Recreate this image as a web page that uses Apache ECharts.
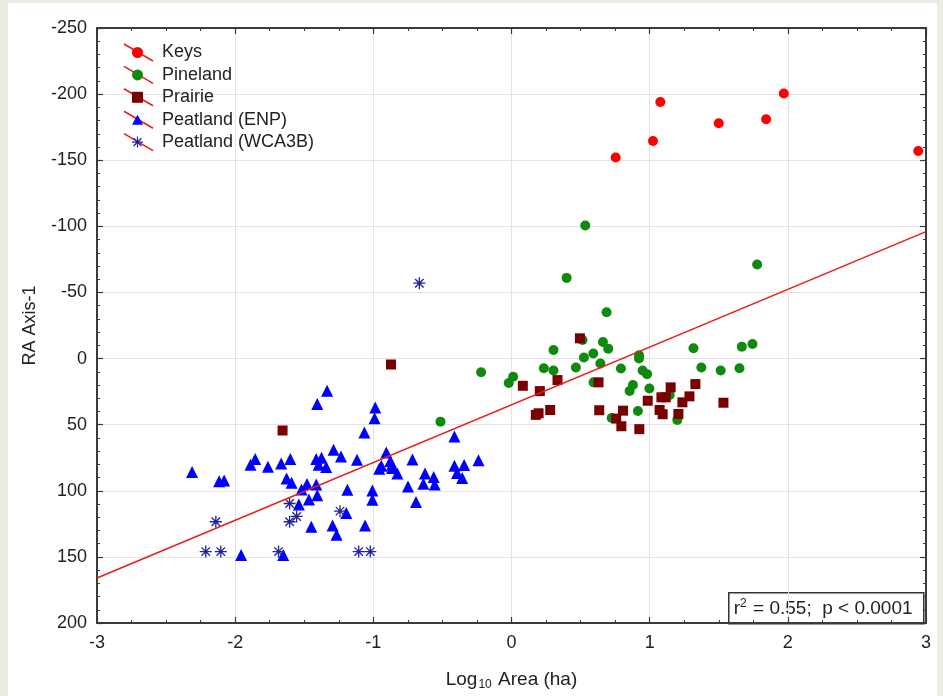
<!DOCTYPE html>
<html>
<head>
<meta charset="utf-8">
<script src="https://cdn.jsdelivr.net/npm/echarts@6/dist/echarts.min.js"></script>
<style>
html,body{margin:0;padding:0;background:#EDECE3;}
#panel{position:absolute;left:8px;top:3px;width:929px;height:693px;background:#fff;}
#chart{position:absolute;left:0;top:0;width:943px;height:696px;}
</style>
</head>
<body>
<div id="panel"></div>
<div id="chart"></div>
<script>
// ---- data (Log10 Area, RA Axis-1) ----
const keys = [[0.754,-152],[1.024,-164.5],[1.077,-194],[1.50,-178],[1.843,-181],[1.971,-200.5],[2.944,-157]];
const pineland = [[0.534,-100.6],[1.778,-71.2],[0.399,-61],[0.688,-35],[0.514,-14],[0.662,-12.5],[0.700,-7.5],
  [0.304,-6.5],[0.592,-3.8],[0.524,-0.8],[0.923,-2.5],[0.923,0],[1.317,-7.8],[1.667,-9],[1.744,-11],
  [-0.22,10.3],[0.234,7.3],[0.304,9],[0.466,6.8],[0.643,3.8],[0.792,7.5],[0.949,9],[0.981,11.8],[1.374,6.8],
  [1.514,9],[1.65,7.3],[0.012,13.8],[-0.02,18.5],[0.594,18],[0.879,20],[0.855,24.6],[0.998,22.6],[1.145,27.6],
  [0.915,39.6],[0.725,45],[1.2,46.4],[-0.514,47.7]];
const prairie = [[0.495,-15.3],[0.082,20.6],[0.333,16.3],[0.205,24.6],[0.630,18],[0.176,42.6],[0.196,41.4],
  [0.280,38.9],[0.635,39.1],[0.807,39.4],[0.758,45.4],[0.795,51.2],[0.925,53.4],[0.986,31.9],[1.085,29.3],
  [1.116,29.3],[1.152,21.8],[1.072,38.9],[1.094,42.1],[1.237,33.1],[1.288,28.6],[1.331,19.3],[1.208,41.9],
  [1.534,33.4],[-0.872,4.5],[-1.657,54.4]];
const peatlandENP = [[-2.312,85.8],[-2.116,92.8],[-2.08,92.3],[-1.957,148.5],[-1.889,80.3],[-1.855,76],
  [-1.763,81.8],[-1.667,79.3],[-1.601,76],[-1.652,148.5],[-1.628,90.8],[-1.592,94],[-1.539,110.4],[-1.52,99.1],
  [-1.48,94.8],[-1.466,106.6],[-1.449,127.2],[-1.413,95.3],[-1.406,103.3],[-1.406,34.4],[-1.335,24.3],
  [-1.413,76],[-1.375,75],[-1.396,80.3],[-1.341,82],[-1.288,69],[-1.234,74],[-1.295,126.2],[-1.266,133.2],
  [-1.196,116.9],[-1.188,99.3],[-1.118,76.5],[-1.065,55.9],[-1.06,126.2],[-1.007,99.8],[-1.007,106.8],
  [-0.986,37.1],[-0.991,45.1],[-0.957,83.3],[-0.942,81],[-0.906,71],[-0.877,77.5],[-0.865,80.3],[-0.865,82.8],
  [-0.826,87],[-0.717,76.3],[-0.749,96.8],[-0.691,108.4],[-0.638,94.6],[-0.626,87],[-0.563,89.5],[-0.556,95.3],
  [-0.413,58.9],[-0.413,81],[-0.394,86.5],[-0.357,90.3],[-0.343,80.5],[-0.239,77]];
const peatlandWCA3B = [[-2.14,123.4],[-2.213,146],[-2.104,146],[-1.686,146],[-1.606,109.6],[-1.606,123.4],
  [-1.555,119.4],[-1.241,115.4],[-1.106,146],[-1.022,146],[-0.667,-57]];
const regression = [[-3,166],[3,-96]];
const seriesNames = ['Keys','Pineland','Prairie','Peatland (ENP)','Peatland (WCA3B)'];
const xTicks = {min:-3,max:3,step:1};
const yTicks = {min:-250,max:200,step:50};
const statText = 'r{sup|2} = 0.55;  p < 0.0001';

// ---- styling ----
const FONT = '"Liberation Sans", Arial, sans-serif';
function asteriskPath(){
  const L = 10, t = 1.1, parts = [];
  [0,45,90,135].forEach(a=>{
    const r = a*Math.PI/180, c = Math.cos(r), s = Math.sin(r);
    const pts = [[-L,-t],[L,-t],[L,t],[-L,t]].map(([x,y])=>[(x*c-y*s).toFixed(2),(x*s+y*c).toFixed(2)]);
    parts.push('M'+pts[0].join(',')+'L'+pts[1].join(',')+'L'+pts[2].join(',')+'L'+pts[3].join(',')+'Z');
  });
  return 'path://'+parts.join('');
}
const AST = asteriskPath();
const TRI = 'path://M0,-10L10,8L-10,8Z';
const SQR = 'path://M0,0L10,0L10,10L0,10Z';

const chart = echarts.init(document.getElementById('chart'), null, {renderer:'canvas'});
const axisColor = '#3a3a3a';
function xAx(pos, labels){
  return {type:'value', position:pos, min:xTicks.min, max:xTicks.max, interval:xTicks.step,
    axisLine:{show:true, onZero:false, lineStyle:{color:axisColor, width:2}},
    axisTick:{show:true, inside:true, length:6, lineStyle:{color:axisColor, width:1.2}},
    minorTick:{show:true, splitNumber:4, length:3, lineStyle:{color:axisColor, width:1}},
    splitLine:{show:labels, lineStyle:{color:'#e4e4e4', width:1}},
    axisLabel:{show:labels, color:'#222', fontSize:18, fontFamily:FONT, margin:11},
    name: labels ? 'Log{sub|10} Area (ha)' : '', nameLocation:'middle', nameGap:46,
    nameTextStyle:{color:'#222', fontSize:19, fontFamily:FONT,
      rich:{sub:{fontSize:12, fontFamily:FONT, color:'#222', padding:[10,1,0,1]}}}
  };
}
function yAx(pos, labels){
  return {type:'value', position:pos, inverse:true, min:yTicks.min, max:yTicks.max, interval:yTicks.step,
    axisLine:{show:true, onZero:false, lineStyle:{color:axisColor, width:2}},
    axisTick:{show:true, inside:true, length:6, lineStyle:{color:axisColor, width:1.2}},
    minorTick:{show:true, splitNumber:5, length:3, lineStyle:{color:axisColor, width:1}},
    splitLine:{show:labels, lineStyle:{color:'#e4e4e4', width:1}},
    axisLabel:{show:labels, color:'#222', fontSize:18, fontFamily:FONT, margin:10},
    name: labels ? 'RA Axis-1' : '', nameLocation:'middle', nameGap:58, nameRotate:90,
    nameTextStyle:{color:'#222', fontSize:18, fontFamily:FONT}
  };
}
const colors = ['#ff0000','#0f8a0f','#7a0000','#0000ff','#23239a'];
const symbols = ['circle','circle',SQR,TRI,AST];
const sizes = [10,10,10,12,12];
const datas = [keys,pineland,prairie,peatlandENP,peatlandWCA3B];

const series = datas.map((d,i)=>({
  name:seriesNames[i], type:'scatter', data:d, symbol:symbols[i], symbolSize:sizes[i],
  itemStyle:{color:colors[i], opacity:1}, z:3+ (i===4?1:0)
}));
series.push({name:'fit', type:'line', data:regression, symbol:'none', silent:true,
  lineStyle:{color:'#e8201c', width:1.6}, z:5});

// legend red diagonal lines (Statistica-style legend keys)
const legendLines = seriesNames.map((n,i)=>{
  const cy = 52.5 + 22.4*i;
  return {type:'line', z:1, shape:{x1:124,y1:cy-8.5,x2:153,y2:cy+8.5},
    style:{stroke:'#e8201c', lineWidth:1.6}};
});

chart.setOption({
  animation:false,
  backgroundColor:'transparent',
  grid:{left:97, right:17, top:28, bottom:70, containLabel:false},
  xAxis:[xAx('bottom',true), xAx('top',false)],
  yAxis:[yAx('left',true), yAx('right',false)],
  legend:{data:seriesNames, orient:'vertical', left:127, top:36.3, itemWidth:11, itemHeight:11, itemGap:0,
    textStyle:{fontSize:18, fontFamily:FONT, color:'#222', lineHeight:22.4, padding:[0,0,0,14]},
    selectedMode:false, z:5},
  graphic:[...legendLines,
    {type:'group', left:728, top:592, z:10, children:[
      {type:'rect', shape:{x:0,y:0,width:195,height:31}, style:{fill:'#fff', stroke:'#333', lineWidth:1.5}},
      {type:'text', x:5, y:16, style:{text:statText, fontSize:19, fontFamily:FONT, fill:'#222', verticalAlign:'middle',
        rich:{sup:{fontSize:12, fontFamily:FONT, fill:'#222', padding:[0,1,10,0]}}}}
    ]}
  ],
  series:series
});
</script>
</body>
</html>
